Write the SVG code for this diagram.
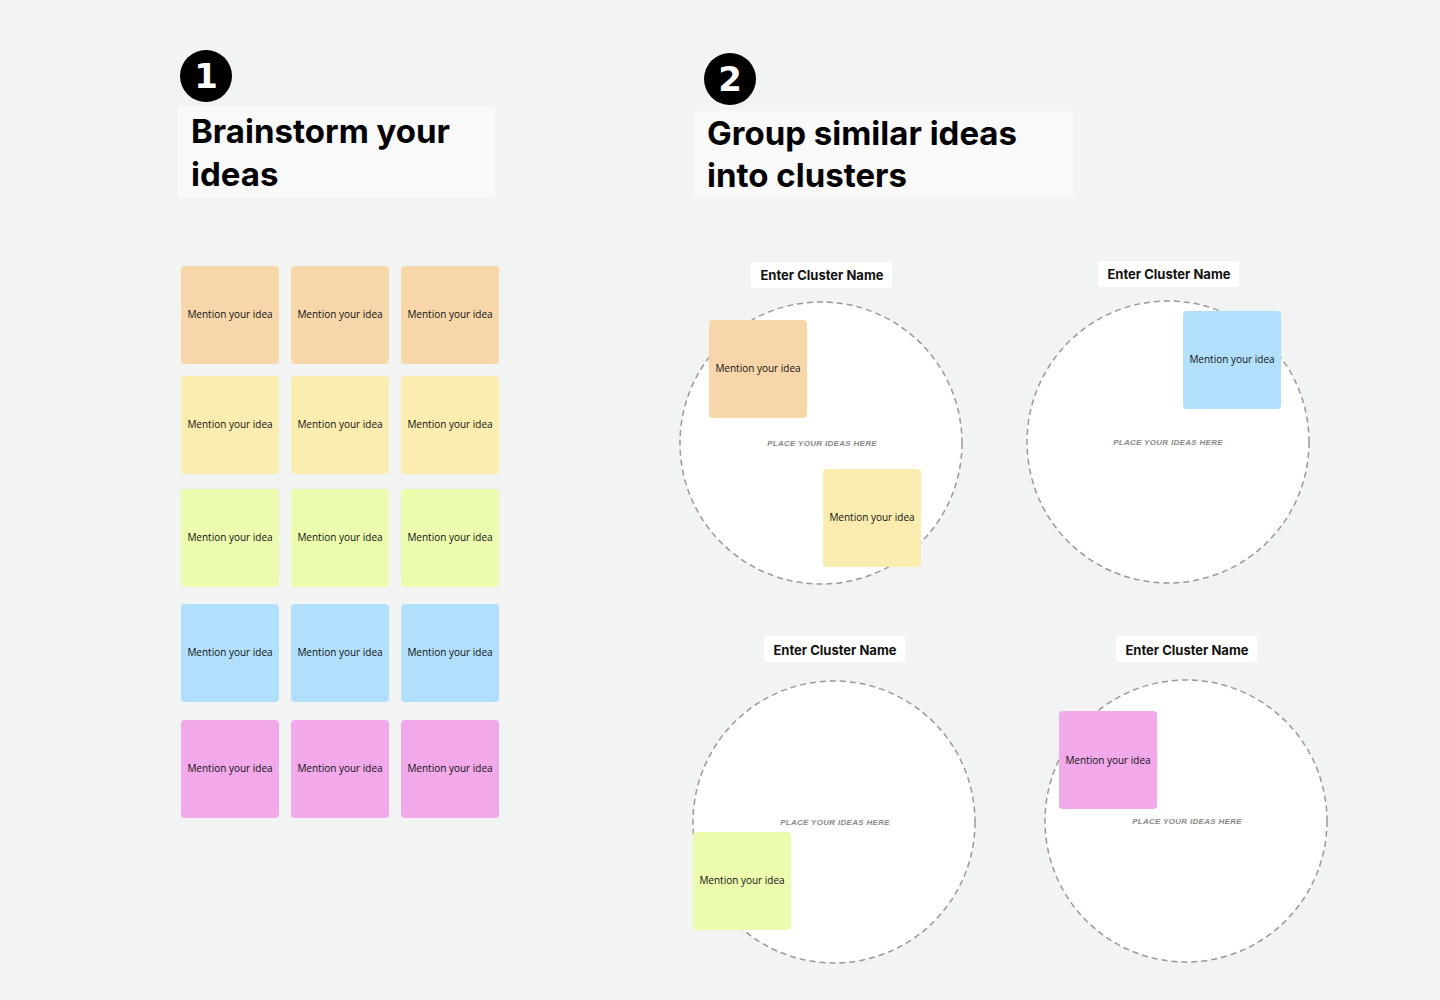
<svg xmlns="http://www.w3.org/2000/svg" width="1440" height="1000" viewBox="0 0 1440 1000">
<style>
.t{font-family:Inter,"Liberation Sans",sans-serif;font-weight:700;font-size:33px;fill:#000}
.s{font-family:"Open Sans","Liberation Sans",sans-serif;font-size:10px;fill:#111;text-anchor:middle}
.l{font-family:Inter,"Liberation Sans",sans-serif;font-weight:700;font-size:13px;fill:#111;text-anchor:middle}
.p{font-family:"Liberation Sans",sans-serif;font-style:italic;font-weight:700;font-size:8px;fill:#888;text-anchor:middle;letter-spacing:0.3px}
.c{fill:#fff;stroke:#999;stroke-width:1.5;stroke-dasharray:6 4}
.o{fill:#f7d6aa}.y{fill:#fbedb0}.g{fill:#ebfcaf}.b{fill:#b1dffc}.m{fill:#f2a9e9}
.n{font-family:"DejaVu Sans",sans-serif;font-weight:900;font-size:34px;fill:#fff;text-anchor:middle}
</style>
<defs><rect id="st" width="98" height="98" rx="4"/></defs>
<rect width="1440" height="1000" fill="#f2f4f3"/>
<g id="step1">
<circle cx="206" cy="76" r="26" fill="#000"/><text x="206" y="88" class="n">1</text>
<rect x="178" y="106" width="317" height="92" fill="#f9f9f9"/>
<text x="191" y="143" class="t">Brainstorm your</text><text x="191" y="186" class="t">ideas</text>
</g>
<g id="step2">
<circle cx="730" cy="79" r="26" fill="#000"/><text x="730" y="91" class="n">2</text>
<rect x="694" y="111" width="379" height="86" fill="#f9f9f9"/>
<text x="707" y="145" class="t">Group similar ideas</text><text x="707" y="187" class="t">into clusters</text>
</g>
<g id="grid">
<g class="o"><use href="#st" x="181" y="266"/><use href="#st" x="291" y="266"/><use href="#st" x="401" y="266"/></g>
<g class="y"><use href="#st" x="181" y="376"/><use href="#st" x="291" y="376"/><use href="#st" x="401" y="376"/></g>
<g class="g"><use href="#st" x="181" y="489"/><use href="#st" x="291" y="489"/><use href="#st" x="401" y="489"/></g>
<g class="b"><use href="#st" x="181" y="604"/><use href="#st" x="291" y="604"/><use href="#st" x="401" y="604"/></g>
<g class="m"><use href="#st" x="181" y="720"/><use href="#st" x="291" y="720"/><use href="#st" x="401" y="720"/></g>
<g>
<text class="s" x="230" y="318">Mention your idea</text><text class="s" x="340" y="318">Mention your idea</text><text class="s" x="450" y="318">Mention your idea</text>
<text class="s" x="230" y="428">Mention your idea</text><text class="s" x="340" y="428">Mention your idea</text><text class="s" x="450" y="428">Mention your idea</text>
<text class="s" x="230" y="541">Mention your idea</text><text class="s" x="340" y="541">Mention your idea</text><text class="s" x="450" y="541">Mention your idea</text>
<text class="s" x="230" y="656">Mention your idea</text><text class="s" x="340" y="656">Mention your idea</text><text class="s" x="450" y="656">Mention your idea</text>
<text class="s" x="230" y="772">Mention your idea</text><text class="s" x="340" y="772">Mention your idea</text><text class="s" x="450" y="772">Mention your idea</text>
</g>
</g>
<g id="cluster1">
<rect x="751" y="262" width="141" height="26" rx="3" fill="#fff"/><text class="l" x="822" y="280">Enter Cluster Name</text>
<circle class="c" cx="821" cy="443" r="141"/>
<text class="p" x="822" y="446">PLACE YOUR IDEAS HERE</text>
<use href="#st" x="709" y="320" class="o"/><text class="s" x="758" y="372">Mention your idea</text>
<use href="#st" x="823" y="469" class="y"/><text class="s" x="872" y="521">Mention your idea</text>
</g>
<g id="cluster2">
<rect x="1098" y="261" width="141" height="26" rx="3" fill="#fff"/><text class="l" x="1169" y="279">Enter Cluster Name</text>
<circle class="c" cx="1168" cy="442" r="141"/>
<text class="p" x="1168" y="445">PLACE YOUR IDEAS HERE</text>
<use href="#st" x="1183" y="311" class="b"/><text class="s" x="1232" y="363">Mention your idea</text>
</g>
<g id="cluster3">
<rect x="764" y="636" width="141" height="26" rx="3" fill="#fff"/><text class="l" x="835" y="655">Enter Cluster Name</text>
<circle class="c" cx="834" cy="822" r="141"/>
<text class="p" x="835" y="825">PLACE YOUR IDEAS HERE</text>
<use href="#st" x="693" y="832" class="g"/><text class="s" x="742" y="884">Mention your idea</text>
</g>
<g id="cluster4">
<rect x="1116" y="636" width="141" height="26" rx="3" fill="#fff"/><text class="l" x="1187" y="655">Enter Cluster Name</text>
<circle class="c" cx="1186" cy="821" r="141"/>
<text class="p" x="1187" y="824">PLACE YOUR IDEAS HERE</text>
<use href="#st" x="1059" y="711" class="m"/><text class="s" x="1108" y="764">Mention your idea</text>
</g>
<g id="connectors"/>
</svg>
